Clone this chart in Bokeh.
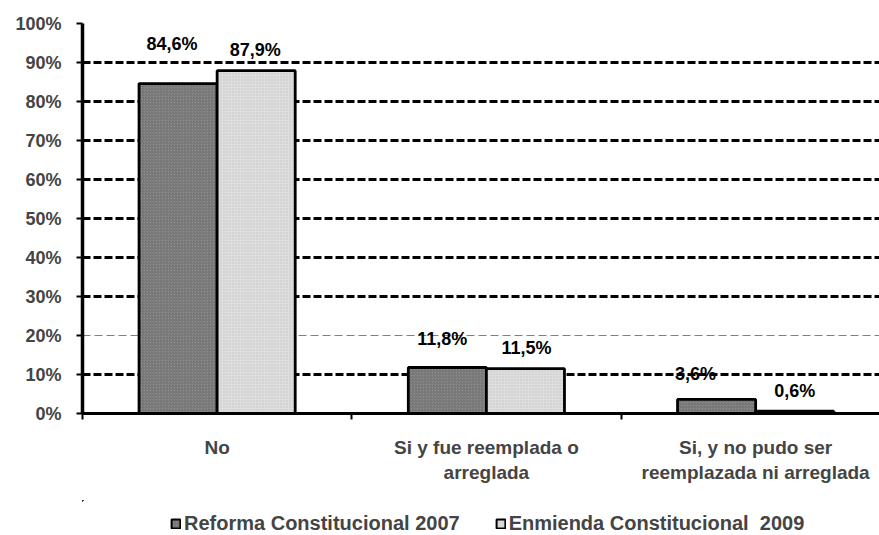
from bokeh.plotting import figure
from bokeh.layouts import column
from bokeh.models import (ColumnDataSource, FixedTicker, Grid, Legend, LegendItem)
from bokeh.core.properties import value
from bokeh.embed import file_html
from bokeh.resources import INLINE

categories = ["No", "Si y fue reemplada o\narreglada", "Si, y no pudo ser\nreemplazada ni arreglada"]
series_names = ["Reforma Constitucional 2007", "Enmienda Constitucional  2009"]
reforma_2007 = [84.6, 11.8, 3.6]
enmienda_2009 = [87.9, 11.5, 0.6]
y_ticks = [0, 10, 20, 30, 40, 50, 60, 70, 80, 90, 100]

# label nudges in screen pixels (layout only)
label_dx = [[-6, -5, -21], [-1, 1, 0]]
label_dy = [[40, 28, 25], [21, 21, 20]]

FONT = "Liberation Sans"
bar_w = 0.29
shifts = [-0.145, 0.145]
fills = ["#8c8c8c", "#dedede"]
hatch_cols = ["#6e6e6e", "#c4c4c4"]
hatches = ["right_diagonal_line", "dot"]

p = figure(width=879, height=500, x_range=(0, 2.96), y_range=(0, 100),
           output_backend="svg", toolbar_location=None,
           min_border_left=82, min_border_right=0, min_border_top=23,
           min_border_bottom=87)
p.outline_line_color = None
p.background_fill_color = "white"
p.xgrid.visible = False
p.ygrid.visible = False

# gridlines
main_grid = Grid(dimension=1, ticker=FixedTicker(ticks=[10, 30, 40, 50, 60, 70, 80, 90]),
                 grid_line_color="black", grid_line_width=3, grid_line_dash="8 3")
thin_grid = Grid(dimension=1, ticker=FixedTicker(ticks=[20]),
                 grid_line_color="#7f7f7f", grid_line_width=1, grid_line_dash="8 4")
top_grid = Grid(dimension=1, ticker=FixedTicker(ticks=[100]),
                grid_line_color="black", grid_line_width=4, grid_line_dash="12 1")
p.add_layout(main_grid)
p.add_layout(thin_grid)
p.add_layout(top_grid)

# legend strip (separate small figure below the chart; its ranges keep the
# key renderers' bars out of view so only the legend shows)
pl = figure(width=879, height=35, x_range=(10, 11), y_range=(-20, -10),
            output_backend="svg", toolbar_location=None,
            x_axis_type=None, y_axis_type=None,
            min_border_left=0, min_border_right=0, min_border_top=0, min_border_bottom=0)
pl.outline_line_color = None
pl.xgrid.visible = False
pl.ygrid.visible = False

legend_items = []
for s, (name, vals) in enumerate(zip(series_names, [reforma_2007, enmienda_2009])):
    xs = [i + 0.5 + shifts[s] for i in range(len(categories))]
    src = ColumnDataSource(dict(x=xs, top=vals,
                                lab=[f"{v:.1f}".replace(".", ",") + "%" for v in vals],
                                dx=label_dx[s], dy=[-d for d in label_dy[s]]))
    style = dict(fill_color=fills[s], line_color="black", hatch_pattern=hatches[s],
                 hatch_color=hatch_cols[s], hatch_scale=3, hatch_weight=1)
    p.vbar(x="x", top="top", width=bar_w, source=src, line_width=2.8, **style)
    p.text(x="x", y="top", text="lab", source=src, x_offset="dx", y_offset="dy",
           text_align="center", text_baseline="middle", text_font=value(FONT),
           text_font_style="bold", text_font_size="18px", text_color="black")
    key = pl.vbar(x="x", top="top", width=bar_w, source=src, line_width=2, **style)
    legend_items.append(LegendItem(label=name, renderers=[key], index=0))

# axes
p.yaxis.ticker = FixedTicker(ticks=y_ticks)
p.yaxis.major_label_overrides = {t: f"{t}%" for t in y_ticks}
p.yaxis.axis_line_color = "black"
p.yaxis.axis_line_width = 3.5
p.yaxis.major_tick_out = 6
p.yaxis.major_tick_in = 0
p.yaxis.major_tick_line_width = 2
p.yaxis.minor_tick_line_color = None
p.yaxis.major_label_text_font = FONT
p.yaxis.major_label_text_font_style = "bold"
p.yaxis.major_label_text_font_size = "18px"
p.yaxis.major_label_standoff = 15

centers = [i + 0.5 for i in range(len(categories))]
p.xaxis.ticker = FixedTicker(ticks=centers, minor_ticks=list(range(len(categories) + 1)))
p.xaxis.major_label_overrides = {c: lab for c, lab in zip(centers, categories)}
p.xaxis.axis_line_color = "black"
p.xaxis.axis_line_width = 3
p.xaxis.major_tick_line_color = None
p.xaxis.minor_tick_line_color = "black"
p.xaxis.minor_tick_line_width = 2
p.xaxis.minor_tick_out = 6
p.xaxis.minor_tick_in = 0
p.xaxis.major_label_text_font = FONT
p.xaxis.major_label_text_font_style = "bold"
p.xaxis.major_label_text_font_size = "19px"
p.xaxis.major_label_standoff = 17

legend = Legend(items=legend_items, orientation="horizontal", location=(88, 0),
                label_text_font=FONT, label_text_font_style="bold",
                label_text_font_size="20px", glyph_width=11, glyph_height=11,
                label_height=20, spacing=35, label_standoff=3, border_line_color=None,
                background_fill_alpha=0, margin=0, padding=1)
pl.add_layout(legend)

open("out.html", "w").write(file_html(column(p, pl, spacing=0), INLINE))
